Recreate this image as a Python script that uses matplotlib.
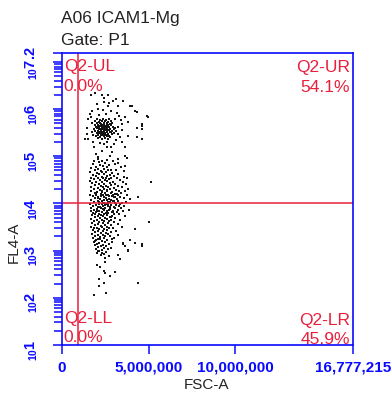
import numpy as np
import matplotlib
matplotlib.use('Agg')
import matplotlib.pyplot as plt
from matplotlib.ticker import LogLocator, NullFormatter, FixedLocator

# ---- data (FSC-A in millions, FL4-A as log10) ----
upper_core = [
    (2.02, 5.79), (2.21, 5.77), (2.37, 5.78), (2.55, 5.76), (2.71, 5.79),
    (1.93, 5.74), (2.12, 5.73), (2.30, 5.75), (2.46, 5.74), (2.63, 5.72), (2.80, 5.75),
    (2.00, 5.70), (2.17, 5.71), (2.26, 5.69), (2.41, 5.70), (2.58, 5.71), (2.75, 5.68), (2.90, 5.70),
    (1.88, 5.66), (2.07, 5.67), (2.22, 5.65), (2.34, 5.66), (2.49, 5.64), (2.66, 5.67), (2.84, 5.66),
    (1.97, 5.62), (2.13, 5.61), (2.29, 5.63), (2.38, 5.62), (2.53, 5.60), (2.70, 5.62), (2.93, 5.63), (3.05, 5.61),
    (1.84, 5.58), (2.03, 5.59), (2.19, 5.57), (2.33, 5.58), (2.45, 5.59), (2.61, 5.56), (2.78, 5.58), (2.98, 5.57),
    (1.92, 5.54), (2.10, 5.53), (2.25, 5.55), (2.40, 5.54), (2.57, 5.52), (2.72, 5.55), (2.88, 5.53), (3.10, 5.54),
    (1.99, 5.50), (2.15, 5.49), (2.31, 5.51), (2.47, 5.50), (2.64, 5.48), (2.82, 5.51), (3.00, 5.49),
    (2.05, 5.46), (2.23, 5.45), (2.36, 5.47), (2.52, 5.46), (2.69, 5.44), (2.86, 5.47),
    (1.96, 5.42), (2.18, 5.41), (2.42, 5.43), (2.60, 5.42), (2.77, 5.40),
    (2.08, 5.38), (2.28, 5.37), (2.50, 5.39), (2.68, 5.36),
    (2.15, 5.64), (2.28, 5.60), (2.43, 5.67), (2.52, 5.63), (2.35, 5.52), (2.20, 5.52), (2.55, 5.55),
    (2.62, 5.60), (2.40, 5.58), (2.27, 5.68), (2.47, 5.56), (2.12, 5.57), (2.68, 5.64), (2.33, 5.63),
    (2.58, 5.67), (2.24, 5.48), (2.44, 5.48), (2.08, 5.62), (2.75, 5.52), (2.37, 5.45),
]

upper_halo = [
    (1.66, 6.29), (1.90, 6.34), (2.29, 6.30), (2.44, 6.23), (2.67, 6.30), (2.96, 6.18), (3.10, 6.22),
    (3.54, 6.18), (3.25, 6.07), (2.67, 6.07), (2.09, 6.00), (4.02, 6.06), (4.21, 5.97), (4.88, 5.85),
    (4.60, 5.65), (4.60, 5.58), (4.31, 5.61), (3.82, 5.72), (3.63, 5.83), (3.44, 5.69), (1.62, 5.90),
    (1.52, 5.79), (1.42, 5.61), (1.71, 5.51), (1.52, 5.37), (3.82, 5.44), (4.31, 5.40), (4.60, 5.37),
    (3.44, 5.30), (2.58, 5.19), (3.63, 5.19), (2.09, 4.98), (2.77, 5.01), (3.25, 4.94), (3.63, 5.01),
    (3.73, 4.96), (4.98, 5.83), (4.60, 5.69), (4.31, 5.93), (3.92, 6.07), (1.33, 5.37), (1.42, 5.47),
    (1.75, 5.95), (2.35, 5.98), (2.80, 5.95), (3.15, 5.92), (1.68, 5.84), (2.55, 5.90), (3.30, 5.86),
    (1.80, 5.30), (2.20, 5.28), (2.60, 5.31), (3.00, 5.26), (3.35, 5.40), (3.45, 5.55), (3.25, 5.62),
    (3.38, 5.77), (1.72, 5.70), (1.76, 5.45), (2.45, 5.25), (2.85, 5.20), (3.05, 5.78), (3.20, 5.48),
    (2.15, 5.88), (2.00, 6.10), (2.70, 6.12), (2.40, 6.15), (1.85, 5.20), (3.10, 5.35), (2.30, 5.12),
    (2.90, 5.10), (1.95, 5.05),
]

lower_cloud = [
    (2.05, 4.95), (2.60, 4.93),
    (1.85, 4.91), (2.30, 4.89), (2.95, 4.90),
    (2.12, 4.87), (2.48, 4.85), (3.20, 4.86),
    (1.78, 4.83), (2.20, 4.81), (2.70, 4.82), (3.05, 4.84),
    (1.95, 4.77), (2.38, 4.79), (2.58, 4.78), (3.40, 4.77),
    (1.70, 4.75), (2.10, 4.73), (2.45, 4.74), (2.85, 4.72),
    (1.88, 4.71), (2.25, 4.69), (2.65, 4.70), (3.10, 4.71), (3.55, 4.69),
    (1.62, 4.67), (2.02, 4.65), (2.33, 4.66), (2.52, 4.67), (2.90, 4.65),
    (1.80, 4.61), (2.15, 4.63), (2.42, 4.62), (2.75, 4.60), (3.25, 4.62),
    (1.95, 4.59), (2.28, 4.57), (2.60, 4.58), (3.00, 4.59), (3.60, 4.57),
    (1.68, 4.55), (2.08, 4.53), (2.35, 4.54), (2.55, 4.55), (2.82, 4.53), (3.15, 4.54),
    (1.85, 4.51), (2.20, 4.49), (2.48, 4.50), (2.70, 4.51), (3.35, 4.49),
    (1.60, 4.47), (1.98, 4.45), (2.30, 4.46), (2.62, 4.47), (2.92, 4.45), (3.50, 4.46),
    (1.75, 4.43), (2.12, 4.41), (2.40, 4.42), (2.78, 4.43), (3.08, 4.41), (3.70, 4.42),
    (1.90, 4.39), (2.25, 4.37), (2.55, 4.38), (2.85, 4.39), (3.25, 4.37),
    (1.65, 4.35), (2.05, 4.33), (2.35, 4.34), (2.68, 4.35), (3.00, 4.33), (3.45, 4.34),
    (1.82, 4.31), (2.18, 4.29), (2.45, 4.30), (2.75, 4.31), (3.12, 4.29), (3.80, 4.30),
    (1.70, 4.27), (2.00, 4.25), (2.30, 4.26), (2.60, 4.27), (2.90, 4.25), (3.30, 4.26), (3.62, 4.27),
    (1.88, 4.23), (2.22, 4.21), (2.50, 4.22), (2.80, 4.23), (3.05, 4.21), (3.40, 4.22),
    (1.62, 4.19), (1.98, 4.17), (2.35, 4.18), (2.65, 4.19), (2.95, 4.17), (3.20, 4.18), (3.75, 4.19),
    (1.78, 4.15), (2.10, 4.13), (2.42, 4.14), (2.72, 4.15), (3.00, 4.13), (3.35, 4.14),
    (1.90, 4.11), (2.20, 4.09), (2.55, 4.12), (2.85, 4.08), (3.15, 4.10), (3.55, 4.11), (3.90, 4.09),
    (1.68, 4.07), (2.05, 4.05), (2.32, 4.06), (2.62, 4.07), (2.92, 4.05), (3.25, 4.06),
    (1.85, 4.03), (2.15, 4.01), (2.45, 4.02), (2.75, 4.03), (3.05, 4.01), (3.45, 4.02), (3.70, 4.03),
    (1.60, 3.99), (1.95, 3.97), (2.28, 3.98), (2.55, 3.99), (2.82, 3.97), (3.10, 3.98), (3.35, 3.99),
    (1.78, 3.95), (2.08, 3.93), (2.38, 3.94), (2.68, 3.95), (2.98, 3.93), (3.28, 3.94), (3.60, 3.95),
    (1.70, 3.91), (2.00, 3.89), (2.25, 3.90), (2.50, 3.91), (2.78, 3.89), (3.05, 3.90), (3.40, 3.91),
    (1.85, 3.87), (2.15, 3.85), (2.42, 3.86), (2.70, 3.87), (2.95, 3.85), (3.22, 3.86), (3.85, 3.87),
    (1.65, 3.83), (1.98, 3.81), (2.30, 3.82), (2.58, 3.83), (2.88, 3.81), (3.15, 3.82), (3.50, 3.83),
    (1.80, 3.79), (2.12, 3.77), (2.40, 3.78), (2.65, 3.79), (3.00, 3.77), (3.30, 3.78),
    (1.72, 3.75), (2.05, 3.73), (2.35, 3.74), (2.62, 3.75), (2.90, 3.73), (3.65, 3.74),
    (1.88, 3.71), (2.20, 3.69), (2.48, 3.70), (2.78, 3.71), (3.08, 3.69),
    (1.68, 3.67), (2.00, 3.65), (2.30, 3.66), (2.58, 3.67), (2.85, 3.65), (3.35, 3.66),
    (1.82, 3.63), (2.15, 3.61), (2.42, 3.62), (2.72, 3.63), (3.00, 3.61),
    (1.75, 3.59), (2.08, 3.57), (2.35, 3.58), (2.65, 3.59), (3.20, 3.57),
    (1.90, 3.55), (2.22, 3.53), (2.50, 3.54), (2.80, 3.55),
    (1.70, 3.51), (2.02, 3.49), (2.32, 3.50), (2.60, 3.51), (2.95, 3.49), (3.45, 3.50),
    (1.85, 3.47), (2.15, 3.45), (2.45, 3.46), (2.72, 3.47),
    (1.78, 3.43), (2.08, 3.41), (2.38, 3.42), (2.62, 3.43), (3.10, 3.41),
    (1.92, 3.39), (2.25, 3.37), (2.55, 3.38), (2.85, 3.39),
    (1.75, 3.35), (2.05, 3.33), (2.35, 3.34), (2.68, 3.35), (3.25, 3.33),
    (1.88, 3.31), (2.18, 3.29), (2.48, 3.30), (2.78, 3.31),
    (1.80, 3.27), (2.10, 3.25), (2.40, 3.26), (3.00, 3.27),
    (1.95, 3.23), (2.30, 3.21), (2.60, 3.22),
    (1.85, 3.19), (2.15, 3.17), (2.50, 3.18), (2.90, 3.19),
    (2.00, 3.15), (2.35, 3.13), (2.70, 3.14),
    (1.90, 3.11), (2.22, 3.09), (2.55, 3.10),
    (2.05, 3.07), (2.40, 3.05), (2.85, 3.06),
    (1.95, 3.03), (2.30, 3.01),
    (2.15, 2.99), (2.55, 2.97),
    (2.00, 2.95), (2.40, 2.93),
    (2.25, 2.91), (2.70, 2.89),
    (1.95, 4.20), (2.25, 4.16), (2.52, 4.19), (2.88, 4.15), (2.12, 4.04), (2.40, 4.07), (2.68, 4.03),
    (2.98, 4.05), (1.80, 3.95), (2.18, 3.92), (2.48, 3.96), (2.78, 3.93), (3.12, 3.97), (2.02, 3.84),
    (2.35, 3.88), (2.62, 3.85), (2.92, 3.82), (2.28, 4.25), (2.58, 4.28), (2.85, 4.23), (3.18, 4.20),
    (2.10, 4.12), (2.45, 4.14), (2.72, 4.10), (3.05, 4.13), (1.92, 3.78), (2.22, 3.75), (2.55, 3.79),
    (2.82, 3.72), (2.38, 4.00), (2.65, 3.98), (2.15, 3.99),
]

lower_tail = [
    (5.13, 4.45), (4.40, 4.13), (5.02, 3.60), (4.21, 3.46), (4.60, 3.14), (3.82, 3.00), (3.54, 3.14),
    (3.63, 4.80), (3.73, 4.55),
    (1.90, 3.21), (2.19, 3.24), (2.86, 3.24), (3.54, 3.17), (3.92, 3.23), (4.21, 3.16), (4.60, 3.10),
    (3.63, 3.10), (3.82, 3.02), (3.25, 2.90), (3.35, 2.83), (2.09, 3.00), (2.29, 2.96), (2.67, 3.03),
    (2.48, 2.85), (2.00, 2.69), (2.19, 2.66), (2.48, 2.76), (2.44, 2.57), (2.48, 2.53), (3.06, 2.55),
    (2.77, 2.46), (2.13, 2.39), (2.44, 2.32), (4.36, 2.32), (2.13, 2.25), (2.54, 2.10), (1.86, 2.06),
]

quad_labels = [('Q2-UL', '0.0%'), ('Q2-UR', '54.1%'), ('Q2-LR', '45.9%'), ('Q2-LL', '0.0%')]
x_gate = 0.94e6
y_gate = 1e4
x_ticks = [0, 5000000, 10000000, 16777215]
y_exps = ['1', '2', '3', '4', '5', '6', '7', '7.2']
y_shown = ['1', '2', '3', '4', '5', '6', '', '7.2']

blue = '#0a0aff'
red = '#e8203c'

plt.rcParams['font.family'] = ['Liberation Sans', 'DejaVu Sans']
plt.rcParams['mathtext.fontset'] = 'custom'
plt.rcParams['mathtext.rm'] = 'Liberation Sans'
plt.rcParams['mathtext.bf'] = 'Liberation Sans:bold'

fig = plt.figure(figsize=(3.92, 3.96), dpi=100)
ax = fig.add_axes([62 / 392, 1 - 345 / 396, 291 / 392, 292.5 / 396])

pts = upper_core + upper_halo + lower_cloud + lower_tail
fsc = np.array([p[0] for p in pts]) * 1e6
fl4 = 10 ** np.array([p[1] for p in pts])
ax.scatter(fsc, fl4, s=3.6, marker='s', c='#151515', linewidths=0)

ax.set_yscale('log')
ax.set_xlim(0, 16777215)
ax.set_ylim(10, 10 ** 7.2)

# quadrant gate
ax.axvline(x_gate, color=red, lw=1.1)
ax.axhline(y_gate, color=red, lw=1.1)

fs_q = 12.5
ax.text(0.006, 0.938, quad_labels[0][0], color=red, fontsize=fs_q, transform=ax.transAxes, ha='left', va='baseline')
ax.text(0.006, 0.870, quad_labels[0][1], color=red, fontsize=fs_q, transform=ax.transAxes, ha='left', va='baseline')
ax.text(0.99, 0.934, quad_labels[1][0], color=red, fontsize=fs_q, transform=ax.transAxes, ha='right', va='baseline')
ax.text(0.99, 0.866, quad_labels[1][1], color=red, fontsize=fs_q, transform=ax.transAxes, ha='right', va='baseline')
ax.text(0.99, 0.068, quad_labels[2][0], color=red, fontsize=fs_q, transform=ax.transAxes, ha='right', va='baseline')
ax.text(0.99, 0.004, quad_labels[2][1], color=red, fontsize=fs_q, transform=ax.transAxes, ha='right', va='baseline')
ax.text(0.006, 0.074, quad_labels[3][0], color=red, fontsize=fs_q, transform=ax.transAxes, ha='left', va='baseline')
ax.text(0.006, 0.010, quad_labels[3][1], color=red, fontsize=fs_q, transform=ax.transAxes, ha='left', va='baseline')

# axes styling
for spine in ax.spines.values():
    spine.set_color(blue)
    spine.set_linewidth(1.2)

ax.xaxis.set_major_locator(FixedLocator(x_ticks))
ax.set_xticklabels(['{:,}'.format(v) for v in x_ticks])
y_pos = [10 ** float(e) for e in y_exps]
ax.yaxis.set_major_locator(FixedLocator(y_pos))
ax.set_yticklabels([r'$_{\mathbf{10}}\mathbf{%s}$' % e if e else '' for e in y_shown])
ax.yaxis.set_minor_locator(LogLocator(base=10, subs=np.arange(2, 10), numticks=20))
ax.yaxis.set_minor_formatter(NullFormatter())

ax.tick_params(axis='both', which='both', colors=blue, direction='out', width=1.1)
ax.tick_params(axis='x', which='major', length=6.5, labelsize=11, pad=5)
ax.tick_params(axis='y', which='major', length=6.5, labelsize=10.5, pad=9, labelrotation=90)
ax.tick_params(axis='y', which='minor', length=6)
for lab in ax.get_xticklabels():
    lab.set_fontweight('bold')

ax.set_xlabel('FSC-A', fontsize=11, color='#222222')
ax.xaxis.set_label_coords(0.497, -0.112)
ax.set_ylabel('FL4-A', fontsize=11, color='#222222')
ax.yaxis.set_label_coords(-0.142, 0.35)

fig.text(61 / 392, 1 - 22.7 / 396, 'A06 ICAM1-Mg', fontsize=12.5, color='#222222', va='baseline')
fig.text(61 / 392, 1 - 45 / 396, 'Gate: P1', fontsize=12.5, color='#222222', va='baseline')

fig.savefig('out.png', dpi=100)
